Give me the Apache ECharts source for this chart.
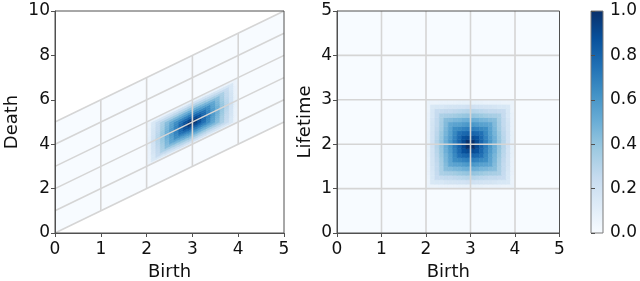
<!DOCTYPE html>
<html><head><meta charset="utf-8">
<script src="https://cdn.jsdelivr.net/npm/echarts@6/dist/echarts.min.js"></script>
<style>html,body{margin:0;padding:0;background:#fff}#c{width:640px;height:281px}</style>
</head><body><div id="c"></div>
<script>
// ---- data ----
const birthTicks = [0, 1, 2, 3, 4, 5];
const deathTicks = [0, 2, 4, 6, 8, 10];
const lifetimeTicks = [0, 1, 2, 3, 4, 5];
const colorbarTicks = [0.0, 0.2, 0.4, 0.6, 0.8, 1.0];
// lower-left corners of heat cells (birth, lifetime)
const cellBirths = [2.0,2.1,2.2,2.3,2.4,2.5,2.6,2.7,2.8,2.9,3.0,3.1,3.2,3.3,3.4,3.5,3.6,3.7,3.8,3.9];
const cellLifetimes = [1.0,1.1,1.2,1.3,1.4,1.5,1.6,1.7,1.8,1.9,2.0,2.1,2.2,2.3,2.4,2.5,2.6,2.7,2.8,2.9];
// rows: lifetime (bottom to top), columns: birth (left to right)
const heatValues = [
 [.06,.06,.06,.07,.07,.07,.07,.08,.08,.08,.08,.08,.08,.07,.07,.07,.07,.06,.06,.06],
 [.06,.15,.16,.16,.17,.18,.18,.19,.19,.20,.20,.19,.19,.18,.18,.17,.16,.16,.15,.06],
 [.06,.16,.24,.25,.26,.26,.27,.28,.29,.30,.30,.29,.28,.27,.26,.26,.25,.24,.16,.06],
 [.07,.16,.25,.33,.34,.35,.36,.38,.39,.40,.40,.39,.38,.36,.35,.34,.33,.25,.16,.07],
 [.07,.17,.26,.34,.43,.44,.46,.47,.49,.50,.50,.49,.47,.46,.44,.43,.34,.26,.17,.07],
 [.07,.18,.26,.35,.44,.53,.55,.56,.58,.60,.60,.58,.56,.55,.53,.44,.35,.26,.18,.07],
 [.07,.18,.27,.36,.46,.55,.64,.66,.68,.70,.70,.68,.66,.64,.55,.46,.36,.27,.18,.07],
 [.08,.19,.28,.38,.47,.56,.66,.75,.78,.80,.80,.78,.75,.66,.56,.47,.38,.28,.19,.08],
 [.08,.19,.29,.39,.49,.58,.68,.78,.87,.90,.90,.87,.78,.68,.58,.49,.39,.29,.19,.08],
 [.08,.20,.30,.40,.50,.60,.70,.80,.90,1.0,1.0,.90,.80,.70,.60,.50,.40,.30,.20,.08],
 [.08,.20,.30,.40,.50,.60,.70,.80,.90,1.0,1.0,.90,.80,.70,.60,.50,.40,.30,.20,.08],
 [.08,.19,.29,.39,.49,.58,.68,.78,.87,.90,.90,.87,.78,.68,.58,.49,.39,.29,.19,.08],
 [.08,.19,.28,.38,.47,.56,.66,.75,.78,.80,.80,.78,.75,.66,.56,.47,.38,.28,.19,.08],
 [.07,.18,.27,.36,.46,.55,.64,.66,.68,.70,.70,.68,.66,.64,.55,.46,.36,.27,.18,.07],
 [.07,.18,.26,.35,.44,.53,.55,.56,.58,.60,.60,.58,.56,.55,.53,.44,.35,.26,.18,.07],
 [.07,.17,.26,.34,.43,.44,.46,.47,.49,.50,.50,.49,.47,.46,.44,.43,.34,.26,.17,.07],
 [.07,.16,.25,.33,.34,.35,.36,.38,.39,.40,.40,.39,.38,.36,.35,.34,.33,.25,.16,.07],
 [.06,.16,.24,.25,.26,.26,.27,.28,.29,.30,.30,.29,.28,.27,.26,.26,.25,.24,.16,.06],
 [.06,.15,.16,.16,.17,.18,.18,.19,.19,.20,.20,.19,.19,.18,.18,.17,.16,.16,.15,.06],
 [.06,.06,.06,.07,.07,.07,.07,.08,.08,.08,.08,.08,.08,.07,.07,.07,.07,.06,.06,.06]
];

// ---- build ----
const BLUES = ['#f7fbff','#deebf7','#c6dbef','#9ecae1','#6baed6','#4292c6','#2171b5','#08519c','#08306b'];
const step = +(cellBirths[1] - cellBirths[0]).toFixed(6);
const cells = [];
heatValues.forEach((row, r) => row.forEach((v, c) => cells.push([cellBirths[c], cellLifetimes[r], v])));

const bMin = birthTicks[0], bMax = birthTicks[birthTicks.length - 1];
const lMin = lifetimeTicks[0], lMax = lifetimeTicks[lifetimeTicks.length - 1];
const dMax = deathTicks[deathTicks.length - 1];

// grid line segments [x1,y1,x2,y2]
const leftLines = lifetimeTicks.map(L => [bMin, bMin + L, bMax, bMax + L])
  .concat(birthTicks.slice(1, -1).map(b => [b, b + lMin, b, b + lMax]));
const rightLines = birthTicks.slice(1, -1).map(b => [b, lMin, b, lMax])
  .concat(lifetimeTicks.slice(1, -1).map(L => [bMin, L, bMax, L]));

const FONT = 'DejaVu Sans';
const TXT = '#111';
const AX = '#505050';
function xAx(gi, name) {
  return { gridIndex: gi, type: 'value', min: bMin, max: bMax, interval: 1,
    name: name, nameLocation: 'middle', nameGap: 29,
    nameTextStyle: { fontSize: 18, color: TXT, fontFamily: FONT },
    axisLine: { show: true, lineStyle: { color: AX, width: 1 } },
    axisTick: { show: true, length: 4, lineStyle: { color: AX } },
    axisLabel: { fontSize: 17, color: TXT, margin: 8, fontFamily: FONT },
    splitLine: { show: false }, z: 10 };
}
function yAx(gi, name, max, interval, gap) {
  return { gridIndex: gi, type: 'value', min: 0, max: max, interval: interval,
    name: name, nameLocation: 'middle', nameGap: gap,
    nameTextStyle: { fontSize: 18, color: TXT, fontFamily: FONT },
    axisLine: { show: true, lineStyle: { color: AX, width: 1 } },
    axisTick: { show: true, length: 4, lineStyle: { color: AX } },
    axisLabel: { fontSize: 17, color: TXT, margin: 5, fontFamily: FONT },
    splitLine: { show: false }, z: 10 };
}

function shearCell(params, api) {
  const b = api.value(0), l = api.value(1);
  const col = api.visual('color');
  const pts = [[b, b + l], [b + step, b + step + l], [b + step, b + step + l + step], [b, b + l + step]].map(p => api.coord(p));
  return { type: 'polygon', shape: { points: pts }, style: { fill: col, stroke: col, lineWidth: 0.6 } };
}
function rectCell(params, api) {
  const b = api.value(0), l = api.value(1);
  const col = api.visual('color');
  const p0 = api.coord([b, l]), p1 = api.coord([b + step, l + step]);
  return { type: 'rect', shape: { x: p0[0], y: p1[1], width: p1[0] - p0[0], height: p0[1] - p1[1] },
    style: { fill: col, stroke: col, lineWidth: 0.6 } };
}
function lineItem(params, api) {
  const a = api.coord([api.value(0), api.value(1)]), b = api.coord([api.value(2), api.value(3)]);
  return { type: 'line', shape: { x1: a[0], y1: a[1], x2: b[0], y2: b[1] },
    style: { stroke: '#d5d5d5', lineWidth: 1.6 } };
}

const gridBase = { show: true, borderWidth: 1, backgroundColor: 'transparent', z: 10, containLabel: false, outerBoundsMode: 'none' };
const chart = echarts.init(document.getElementById('c'), null, { renderer: 'canvas' });
chart.setOption({
  animation: false,
  textStyle: { fontFamily: FONT },
  grid: [
    Object.assign({ left: 55, top: 11, width: 229, height: 222, borderColor: AX }, gridBase),
    Object.assign({ left: 337, top: 11, width: 222.5, height: 222, borderColor: AX }, gridBase),
    Object.assign({ left: 591, top: 11, width: 12, height: 222, borderColor: '#7a7a7a' }, gridBase)
  ],
  xAxis: [xAx(0, 'Birth'), xAx(1, 'Birth'),
    { gridIndex: 2, type: 'value', min: 0, max: 1, show: false }],
  yAxis: [yAx(0, 'Death', dMax, 2, 34), yAx(1, 'Lifetime', lMax, 1, 23),
    { gridIndex: 2, type: 'value', position: 'right', min: colorbarTicks[0], max: colorbarTicks[colorbarTicks.length - 1], interval: 0.2,
      axisLine: { show: false },
      axisTick: { show: true, length: 4, lineStyle: { color: AX } },
      axisLabel: { fontSize: 17, color: TXT, margin: 7, fontFamily: FONT, formatter: v => v.toFixed(1) },
      splitLine: { show: false }, z: 10 }],
  visualMap: [{ type: 'continuous', show: false, min: 0, max: 1, dimension: 2, seriesIndex: [1, 4], inRange: { color: BLUES } }],
  series: [
    // 0: left zero background (parallelogram)
    { type: 'custom', xAxisIndex: 0, yAxisIndex: 0, z: 1, silent: true, data: [[0]],
      renderItem: (p, api) => ({ type: 'polygon',
        shape: { points: [[bMin, bMin + lMin], [bMax, bMax + lMin], [bMax, bMax + lMax], [bMin, bMin + lMax]].map(q => api.coord(q)) },
        style: { fill: BLUES[0] } }) },
    // 1: left heat (sheared)
    { type: 'custom', xAxisIndex: 0, yAxisIndex: 0, z: 2, silent: true, data: cells,
      encode: { x: 0, y: 1 }, renderItem: shearCell },
    // 2: left grid lines
    { type: 'custom', xAxisIndex: 0, yAxisIndex: 0, z: 3, silent: true, data: leftLines,
      encode: { x: [0, 2], y: [1, 3] }, renderItem: lineItem },
    // 3: right zero background
    { type: 'custom', xAxisIndex: 1, yAxisIndex: 1, z: 1, silent: true, data: [[0]],
      renderItem: (p, api) => { const a = api.coord([bMin, lMin]), b = api.coord([bMax, lMax]);
        return { type: 'rect', shape: { x: a[0], y: b[1], width: b[0] - a[0], height: a[1] - b[1] }, style: { fill: BLUES[0] } }; } },
    // 4: right heat
    { type: 'custom', xAxisIndex: 1, yAxisIndex: 1, z: 2, silent: true, data: cells,
      encode: { x: 0, y: 1 }, renderItem: rectCell },
    // 5: right grid lines
    { type: 'custom', xAxisIndex: 1, yAxisIndex: 1, z: 3, silent: true, data: rightLines,
      encode: { x: [0, 2], y: [1, 3] }, renderItem: lineItem },
    // 6: colorbar
    { type: 'custom', xAxisIndex: 2, yAxisIndex: 2, z: 2, silent: true, data: [[0]],
      renderItem: (p, api) => { const a = api.coord([0, colorbarTicks[0]]), b = api.coord([1, colorbarTicks[colorbarTicks.length - 1]]);
        return { type: 'rect', shape: { x: a[0], y: b[1], width: b[0] - a[0], height: a[1] - b[1] },
          style: { fill: new echarts.graphic.LinearGradient(0, 1, 0, 0, BLUES.map((c, i) => ({ offset: i / (BLUES.length - 1), color: c }))) } }; } }
  ]
});
</script></body></html>
